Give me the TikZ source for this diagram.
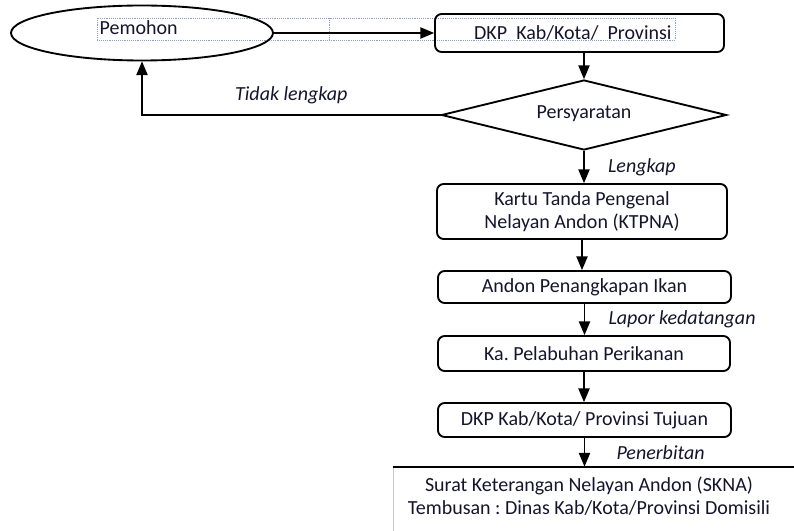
\documentclass[tikz,border=0pt]{standalone}
\usepackage{fontspec}
\setmainfont{Carlito}
\usepackage{tikz}
\usetikzlibrary{shapes, arrows, positioning}
\definecolor{ink}{RGB}{20,20,45}
\definecolor{frame}{RGB}{140,160,200}
\frenchspacing

\begin{document}
\begin{tikzpicture}[x=0.75pt, y=-0.75pt, >=triangle 45, font=\fontsize{15}{17}\selectfont, text=ink]
\tikzset{
  box/.style={draw=black, line width=1.4pt, rounded corners=5pt, align=center, inner sep=0pt},
  flow/.style={->, line width=1.4pt},
  lbl/.style={font=\fontsize{15}{17}\selectfont\itshape}
}
\useasboundingbox (0,0) rectangle (794,531);
% word text frames
\draw[frame, densely dotted, thin] (97,18) rectangle (675,40);
\draw[frame, densely dotted, thin] (329,18) -- (329,40);
% shapes
\node[draw=black, line width=1.4pt, ellipse, minimum width=196.5pt, minimum height=41.25pt] (pemohon) at (142,33) {};
\node[anchor=west] (pemohontext) at (95,28) {Pemohon};
\node[box, minimum width=216.75pt, minimum height=28.5pt] (dkp) at (579.5,33) {\hspace*{-10pt}DKP\ \ Kab/Kota/\ \ Provinsi};
\node[draw=black, line width=1.4pt, diamond, aspect=4, inner sep=0pt, minimum width=213.75pt, minimum height=52.5pt] (syarat) at (584,115) {\raisebox{4pt}{Persyaratan}};
\node[box, minimum width=217.5pt, minimum height=41.25pt] (ktpna) at (582,211.5) {Kartu Tanda Pengenal\\Nelayan Andon (KTPNA)};
\node[box, minimum width=219.75pt, minimum height=24pt] (andon) at (584.5,287) {Andon Penangkapan Ikan};
\node[box, minimum width=219pt, minimum height=26.25pt] (pelabuhan) at (584,353.5) {Ka. Pelabuhan Perikanan};
\node[box, minimum width=219.75pt, minimum height=25.5pt] (tujuan) at (584.5,420) {DKP Kab/Kota/ Provinsi Tujuan};
\node[draw=gray!45, line width=0.6pt, minimum width=302.25pt, minimum height=58.5pt] (skna) at (594.5,506) {};
\draw[line width=1.4pt] (skna.north west) -- (skna.north east);
\node[align=center] (sknatext) at (589,496) {Surat Keterangan Nelayan Andon (SKNA)\\Tembusan : Dinas Kab/Kota/Provinsi Domisili};
% connectors
\draw[flow] (pemohon.east) -- (dkp.west);
\draw[flow] (dkp.south -| syarat.north) -- (syarat.north);
\draw[flow] (syarat.west) -| (pemohon.south) node[lbl, pos=0.25, above=4pt] {Tidak lengkap};
\draw[flow] (syarat.south) -- (syarat.south |- ktpna.north) node[lbl, midway, right=14pt] {Lengkap};
\draw[flow] (ktpna.south) -- (ktpna.south |- andon.north);
\draw[flow] (andon.south) -- (andon.south |- pelabuhan.north) node[lbl, midway, right=14pt] {Lapor kedatangan};
\draw[flow] (pelabuhan.south) -- (pelabuhan.south |- tujuan.north);
\draw[flow] (tujuan.south) -- (tujuan.south |- skna.north) node[lbl, midway, right=20pt] {Penerbitan};
\end{tikzpicture}
\end{document}
